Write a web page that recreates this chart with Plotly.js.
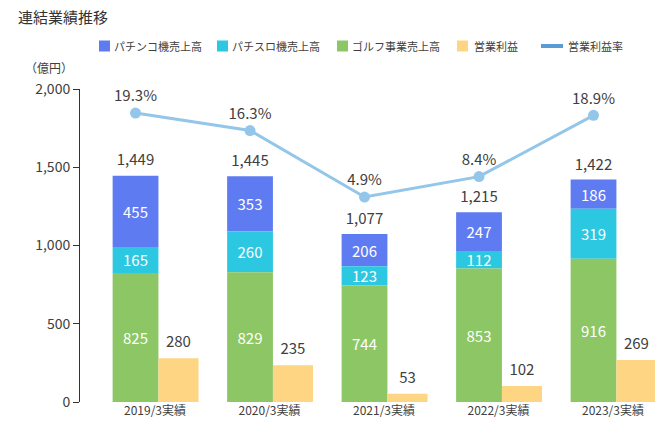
<!DOCTYPE html>
<html>
<head>
<meta charset="utf-8">
<script src="https://cdn.plot.ly/plotly-3.0.1.min.js"></script>
<style>html,body{margin:0;padding:0;background:#fff;}#chart{width:660px;height:430px;}</style>
</head>
<body>
<div id="chart"></div>
<script>
// ---- data ----
const categories = ["2019/3実績", "2020/3実績", "2021/3実績", "2022/3実績", "2023/3実績"];
const pachinkoSales = [455, 353, 206, 247, 186];
const pachisloSales = [165, 260, 123, 112, 319];
const golfSales = [825, 829, 744, 853, 916];
const totalSales = [1449, 1445, 1077, 1215, 1422];
const operatingProfit = [280, 235, 53, 102, 269];
const operatingMargin = [19.3, 16.3, 4.9, 8.4, 18.9];
const yTickVals = [0, 500, 1000, 1500, 2000];
const seriesNames = ['パチンコ機売上高', 'パチスロ機売上高', 'ゴルフ事業売上高', '営業利益', '営業利益率'];

// ---- styling / layout helpers ----
const FONT = '"Noto Sans CJK JP", "Noto Sans", sans-serif';
const TXT = '#404040';
const COLORS = ['#5f7bf2', '#2cc7e0', '#8cc665', '#fed583', '#93c6e8'];
const LEGEND_LINE = '#5b9bd5';
const M = {l: 80, r: 5, t: 89, b: 28};
const PW = 660 - M.l - M.r, PH = 430 - M.t - M.b;
const px2x = px => (px - M.l) / PW;
const py2y = py => (430 - M.b - py) / PH;

const idx = categories.map((c, i) => i);
const stackOffset = -0.37, stackWidth = 0.40;
const profitOffset = 0.03, profitWidth = 0.35;
const stackCenter = idx.map(i => i + stackOffset + stackWidth / 2);
const profitCenter = idx.map(i => i + profitOffset + profitWidth / 2);
const golfBase = idx.map(() => 0);
const pachisloBase = golfSales.slice();
const pachinkoBase = golfSales.map((g, i) => g + pachisloSales[i]);

function stackTrace(name, vals, base, color) {
  return {
    type: 'bar', name: name, x: idx, y: vals, base: base,
    offset: stackOffset, width: stackWidth,
    marker: {color: color, line: {width: 0}},
    text: vals.map(v => String(v)), textposition: 'inside',
    insidetextanchor: 'middle', constraintext: 'none',
    textfont: {color: '#ffffff', size: 15, family: FONT},
    hoverinfo: 'skip', showlegend: false
  };
}

function labelTrace(xs, ys, texts, pushSize, yaxis) {
  return {
    type: 'scatter', mode: 'markers+text', x: xs, y: ys, text: texts,
    yaxis: yaxis || 'y',
    marker: {size: pushSize, opacity: 0}, textposition: 'top center',
    showlegend: false, cliponaxis: false,
    textfont: {color: TXT, size: 15, family: FONT}, hoverinfo: 'skip'
  };
}

const traces = [
  stackTrace(seriesNames[0], pachinkoSales, pachinkoBase, COLORS[0]),
  stackTrace(seriesNames[1], pachisloSales, pachisloBase, COLORS[1]),
  stackTrace(seriesNames[2], golfSales, golfBase, COLORS[2]),
  {
    type: 'bar', name: seriesNames[3], x: idx, y: operatingProfit,
    offset: profitOffset, width: profitWidth,
    marker: {color: COLORS[3], line: {width: 0}},
    hoverinfo: 'skip', showlegend: false
  },
  labelTrace(profitCenter, operatingProfit, operatingProfit.map(v => String(v)), 10),
  labelTrace(stackCenter, totalSales, totalSales.map(v => v.toLocaleString('en-US')), 8),
  {
    type: 'scatter', mode: 'lines+markers+text', name: seriesNames[4],
    x: stackCenter, y: operatingMargin, yaxis: 'y2',
    line: {color: COLORS[4], width: 3},
    marker: {color: COLORS[4], size: 11},
    text: operatingMargin.map(v => v.toFixed(1) + '%'),
    textposition: 'top center', cliponaxis: false,
    textfont: {color: TXT, size: 15, family: FONT},
    showlegend: false, hoverinfo: 'skip'
  }
];

// ---- manual legend (shapes + annotations) ----
const legendPos = [
  {sym: 99, txt: 113}, {sym: 217, txt: 231}, {sym: 337, txt: 351},
  {sym: 457, txt: 473}, {sym: 541, txt: 567}
];
const LEG_Y = 46;
const shapes = [];
const annotations = [];
seriesNames.forEach((name, i) => {
  const p = legendPos[i];
  if (i < 4) {
    shapes.push({
      type: 'rect', xref: 'paper', yref: 'paper',
      x0: px2x(p.sym), x1: px2x(p.sym + 11),
      y0: py2y(LEG_Y + 5.5), y1: py2y(LEG_Y - 5.5),
      fillcolor: COLORS[i], line: {width: 0}
    });
  } else {
    shapes.push({
      type: 'line', xref: 'paper', yref: 'paper',
      x0: px2x(p.sym), x1: px2x(p.sym + 22),
      y0: py2y(LEG_Y), y1: py2y(LEG_Y),
      line: {color: LEGEND_LINE, width: 4}
    });
  }
  annotations.push({
    text: name, xref: 'paper', yref: 'paper',
    x: px2x(p.txt - 1), y: py2y(LEG_Y), xanchor: 'left', yanchor: 'middle',
    showarrow: false, font: {size: 11, color: TXT, family: FONT}
  });
});
annotations.push({
  text: '（億円）', xref: 'paper', yref: 'paper', x: px2x(49), y: py2y(67),
  xanchor: 'center', yanchor: 'middle', showarrow: false,
  font: {size: 12, color: TXT, family: FONT}
});

const layout = {
  width: 660, height: 430,
  margin: M,
  paper_bgcolor: '#ffffff', plot_bgcolor: '#ffffff',
  font: {family: FONT, color: TXT, size: 12},
  barmode: 'overlay',
  showlegend: false,
  title: {
    text: '連結業績推移', x: 18 / 660, xanchor: 'left', xref: 'container',
    y: 1 - 18 / 430, yanchor: 'middle', yref: 'container',
    font: {size: 15, color: '#333333', family: FONT}
  },
  xaxis: {
    range: [-0.655, 4.367], tickvals: idx, ticktext: categories,
    showline: false, showgrid: false, zeroline: false, ticks: '',
    tickfont: {size: 12, color: TXT, family: FONT}, fixedrange: true
  },
  yaxis: {
    range: [0, 2000], tickvals: yTickVals, tickformat: ',d',
    showline: true, linecolor: '#333333', linewidth: 1,
    ticks: 'outside', ticklen: 6, tickcolor: '#333333',
    showgrid: false, zeroline: false,
    tickfont: {size: 14, color: TXT, family: FONT}, fixedrange: true
  },
  yaxis2: {
    overlaying: 'y', side: 'right', range: [-30.24, 23.42],
    visible: false, showgrid: false, zeroline: false, fixedrange: true
  },
  shapes: shapes,
  annotations: annotations
};

Plotly.newPlot('chart', traces, layout, {displayModeBar: false, staticPlot: true});
</script>
</body>
</html>
